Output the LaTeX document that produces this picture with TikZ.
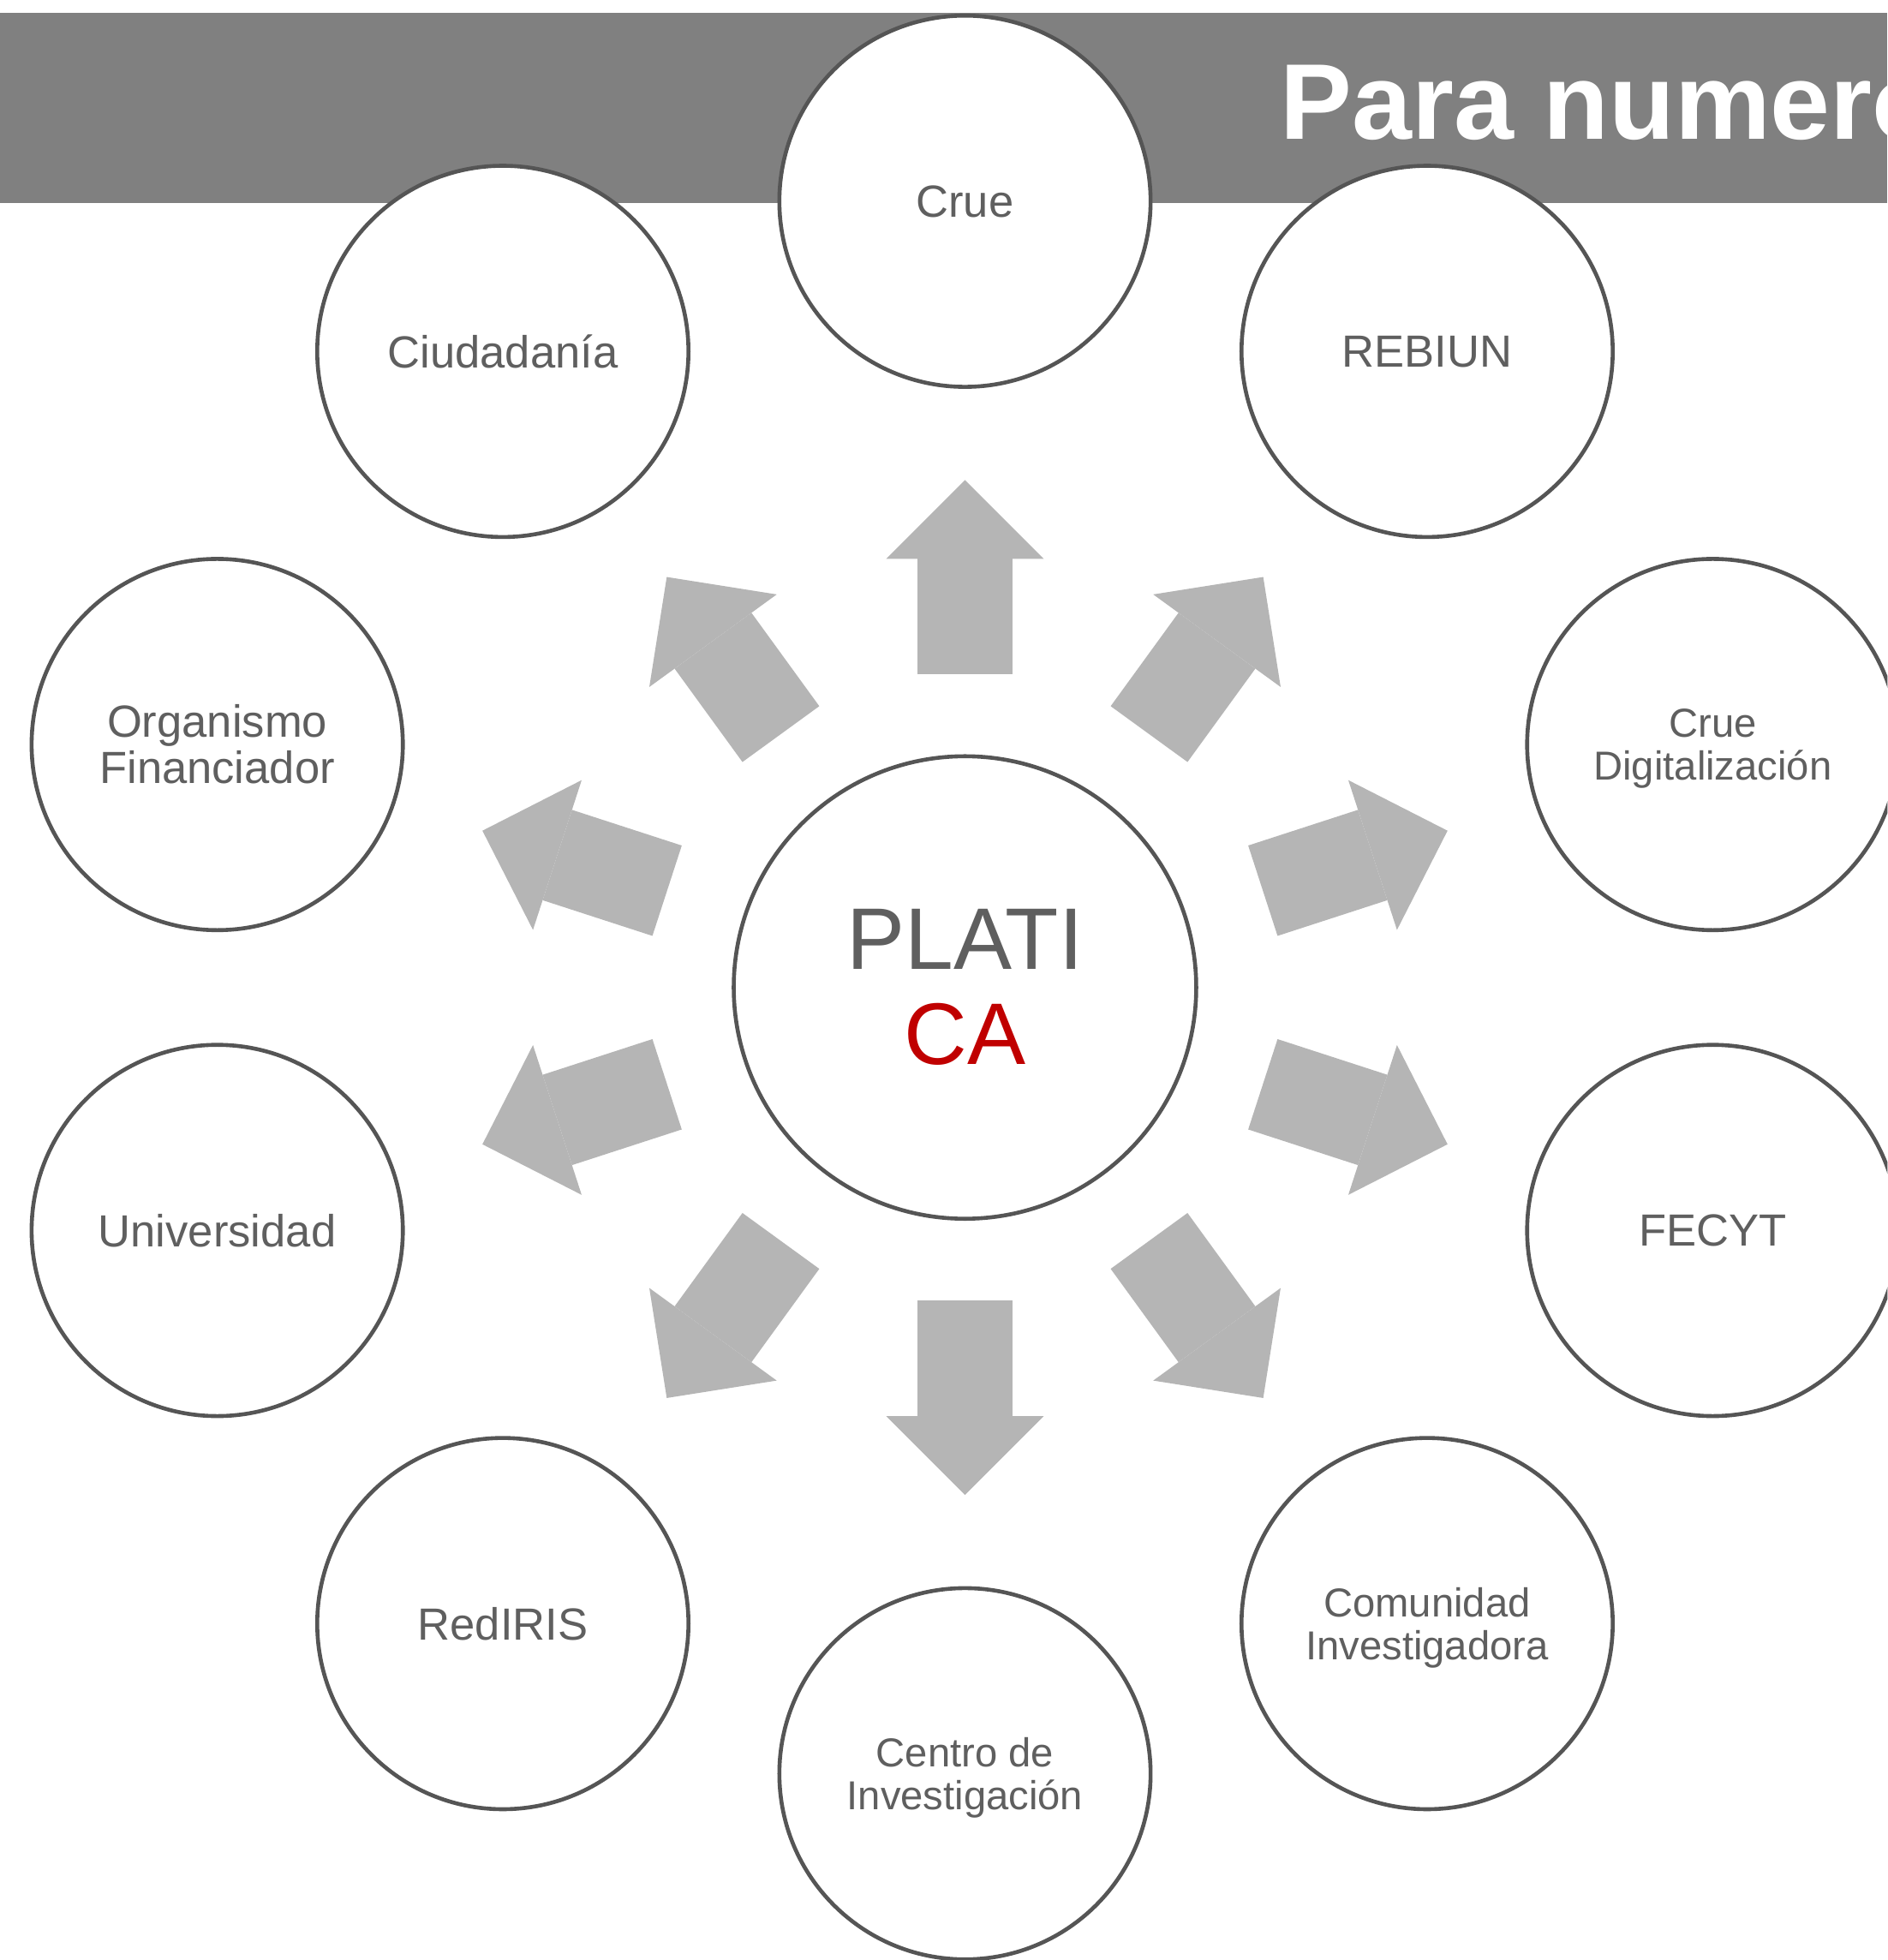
\documentclass[tikz,border=0pt]{standalone}
\usepackage{fontspec}
\setmainfont{Liberation Sans}
\usetikzlibrary{arrows.meta}
\definecolor{bandgray}{HTML}{808080}
\definecolor{ringgray}{HTML}{555555}
\definecolor{labelgray}{HTML}{5F5F5F}
\definecolor{spokegray}{HTML}{B5B5B5}
\definecolor{platired}{HTML}{C00000}

\begin{document}
\begin{tikzpicture}[
  agent/.style={draw=ringgray, line width=0.9pt, fill=white, shape=circle, minimum size=2.97cm,
    inner sep=0pt, align=center, text=labelgray, font=\fontsize{10.25}{10.5}\selectfont},
  smalltext/.style={font=\fontsize{9.2}{9.7}\selectfont, text depth=0pt},
  spoke/.style={draw=spokegray, line width=0.76cm, shorten <=0.64cm, shorten >=0.73cm,
    -{Triangle[length=0.63cm, width=1.26cm, line width=0pt]}}
]
\useasboundingbox (-7.72,-7.78) rectangle (7.38,7.90);
\clip (-7.72,-7.78) rectangle (7.38,7.90);
\fill[bandgray] (-7.72,6.276) rectangle (7.38,7.797);
\node (title) [anchor=base west, inner sep=0pt, text=white, font=\fontsize{24.5}{24.5}\selectfont\bfseries] at (2.515,6.783) {Para numero};

\node (platica) [draw=ringgray, line width=0.9pt, shape=circle, minimum size=3.70cm, inner sep=0pt,
  align=center, text=labelgray, font=\fontsize{19.9}{21.6}\selectfont] at (0,0) {PLATI\\\textcolor{platired}{CA}};

\node (crue) [agent] at (90:6.29) {Crue};
\node (rebiun) [agent] at (54:6.29) {REBIUN};
\node (digital) [agent, smalltext] at (18:6.29) {Crue\\Digitalización};
\node (fecyt) [agent] at (-18:6.29) {FECYT};
\node (comunidad) [agent, smalltext] at (-54:6.29) {Comunidad\\Investigadora};
\node (centro) [agent, smalltext] at (-90:6.29) {Centro de\\Investigación};
\node (rediris) [agent] at (-126:6.29) {RedIRIS};
\node (universidad) [agent] at (-162:6.29) {Universidad};
\node (financiador) [agent] at (162:6.29) {Organismo\\Financiador};
\node (ciudadania) [agent] at (126:6.29) {Ciudadanía};

\draw[spoke] (platica) -- (crue);
\draw[spoke] (platica) -- (rebiun);
\draw[spoke] (platica) -- (digital);
\draw[spoke] (platica) -- (fecyt);
\draw[spoke] (platica) -- (comunidad);
\draw[spoke] (platica) -- (centro);
\draw[spoke] (platica) -- (rediris);
\draw[spoke] (platica) -- (universidad);
\draw[spoke] (platica) -- (financiador);
\draw[spoke] (platica) -- (ciudadania);
\end{tikzpicture}
\end{document}
